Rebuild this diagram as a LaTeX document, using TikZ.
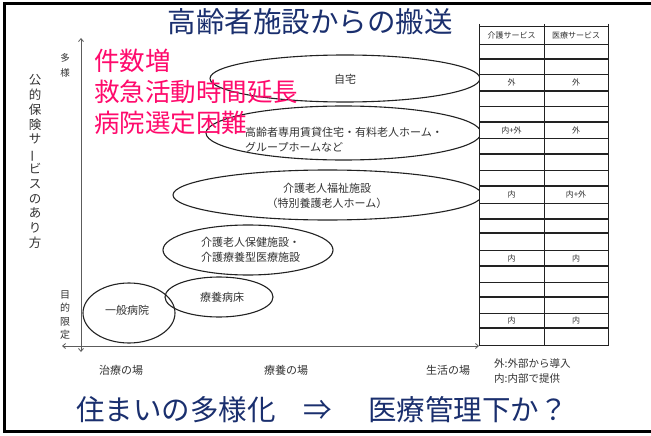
\documentclass[tikz,border=0pt]{standalone}
\usepackage{fontspec}
\setmainfont{Noto Sans CJK JP}
\usepackage{graphicx}
\usetikzlibrary{arrows.meta,shapes.geometric}
\definecolor{navy}{HTML}{1A2F6E}
\definecolor{hotpink}{HTML}{FF0A6C}
\definecolor{ink}{HTML}{333333}
\definecolor{rule}{HTML}{222222}
\tikzset{
  ell/.style={ellipse, draw=rule, line width=1.1pt, inner sep=0pt},
  lbl/.style={text=ink, font=\fontsize{11}{15}\selectfont, inner sep=0pt},
  axislbl/.style={text=ink, font=\fontsize{10}{13.5}\selectfont, inner sep=0pt, align=center},
  cell/.style={text=ink, font=\fontsize{8}{9}\selectfont, inner sep=0pt},
  axis/.style={draw=ink!80, line width=0.8pt, {Straight Barb[length=3pt,width=5pt]}-{Straight Barb[length=3pt,width=5pt]}},
  pinktxt/.style={text=hotpink, font=\fontsize{25.5}{31}\selectfont, inner sep=0pt, anchor=west},
  bigtxt/.style={text=navy, font=\fontsize{28.5}{30}\selectfont, inner sep=0pt},
  thinrule/.style={draw=rule, line width=0.8pt},
  thickrule/.style={draw=rule, line width=2.2pt},
}
\begin{document}
\begin{tikzpicture}[x=1pt,y=-1pt]
\useasboundingbox (0,0) rectangle (651,436);
\fill[white] (0,0) rectangle (651,436);
% frame
\draw[line width=3pt, black] (652,3.5) -- (4.5,3.5) -- (4.5,431.5) -- (652,431.5);

% title
\node[bigtxt] (title) at (310,22) {高齢者施設からの搬送};

% axes
\coordinate (vtop) at (81,38);
\coordinate (vbot) at (81,352);
\coordinate (hleft) at (62,346);
\coordinate (hright) at (479,346);
\draw[axis] (vbot) -- (vtop);
\draw[axis] (hleft) -- (hright);

% axis labels
\node[axislbl, font=\fontsize{9.5}{15}\selectfont] (tayo) at (65,65) {多\\様};
\node[axislbl, font=\fontsize{10}{13.5}\selectfont] (mokuteki) at (65,315) {目\\的\\限\\定};
\node[axislbl, font=\fontsize{12.5}{14.8}\selectfont] (koteki) at (35,161.5) {公\\的\\保\\険\\サ\\\rotatebox[origin=c]{90}{ー}\\ビ\\ス\\の\\あ\\り\\方};
\node[lbl] (chiryo) at (121,370) {治療の場};
\node[lbl] (ryoyo) at (286,370) {療養の場};
\node[lbl] (seikatsu) at (448,370) {生活の場};

% ellipses
\node[ell, minimum width=270pt, minimum height=47pt] (e1) at (345,78.5) {};
\node[ell, minimum width=275pt, minimum height=54pt] (e2) at (343.5,133) {};
\node[ell, minimum width=309pt, minimum height=50pt] (e3) at (327.5,195) {};
\node[ell, minimum width=170pt, minimum height=50pt] (e4) at (248,250) {};
\node[ell, minimum width=108pt, minimum height=40pt] (e5) at (219,297) {};
\node[ell, minimum width=92pt, minimum height=60pt] (e6) at (129,313) {};

\node[lbl] (t1) at (345,79) {自宅};
\node[lbl, align=left, anchor=west] (t2) at (245,139.5) {高齢者専用賃貸住宅・有料老人ホーム・\\グループホームなど};
\node[lbl, align=center] (t3) at (327,196) {介護老人福祉施設\\（特別養護老人ホーム）};
\node[lbl, align=left, anchor=west] (t4) at (201,249.5) {介護老人保健施設・\\介護療養型医療施設};
\node[lbl] (t5) at (222,297) {療養病床};
\node[lbl] (t6) at (127,310) {一般病院};

% table
\fill[white] (479,26) rectangle (608,345);
\foreach \yy in {26,44,74,106,138,170,203,250,282,313,345}
  \draw[thinrule] (479,\yy) -- (608,\yy);
\foreach \yy in {59,91,122,154,186,219,233,266,297,328}
  \draw[thickrule] (479,\yy) -- (608,\yy);
\draw[thinrule] (479,24) -- (479,346);
\draw[thinrule] (544,24) -- (544,346);
\draw[thinrule] (608,24) -- (608,346);

\node[cell] (h1) at (511.5,35) {介護サービス};
\node[cell] (h2) at (576,35) {医療サービス};
\node[cell] (c1a) at (511.5,82.5) {外};
\node[cell] (c1b) at (576,82.5) {外};
\node[cell] (c2a) at (511.5,130) {内+外};
\node[cell] (c2b) at (576,130) {外};
\node[cell] (c3a) at (511.5,194.5) {内};
\node[cell] (c3b) at (576,194.5) {内+外};
\node[cell] (c4a) at (511.5,258) {内};
\node[cell] (c4b) at (576,258) {内};
\node[cell] (c5a) at (511.5,320.5) {内};
\node[cell] (c5b) at (576,320.5) {内};

% legend
\node[lbl, align=left, anchor=west, font=\fontsize{10.5}{15.5}\selectfont] (legend) at (494,371) {外:外部から導入\\内:内部で提供};

% pink text
\node[pinktxt] (p1) at (94,61) {件数増};
\node[pinktxt] (p2) at (94,92) {救急活動時間延長};
\node[pinktxt] (p3) at (94,123) {病院選定困難};

% bottom text
\node[bigtxt, anchor=west] (bottomA) at (76,410) {住まいの多様化};
\node[bigtxt] (arrow) at (318,410) {⇒};
\node[bigtxt, anchor=west] (bottomB) at (368,410) {医療管理下か？};
\end{tikzpicture}
\end{document}
